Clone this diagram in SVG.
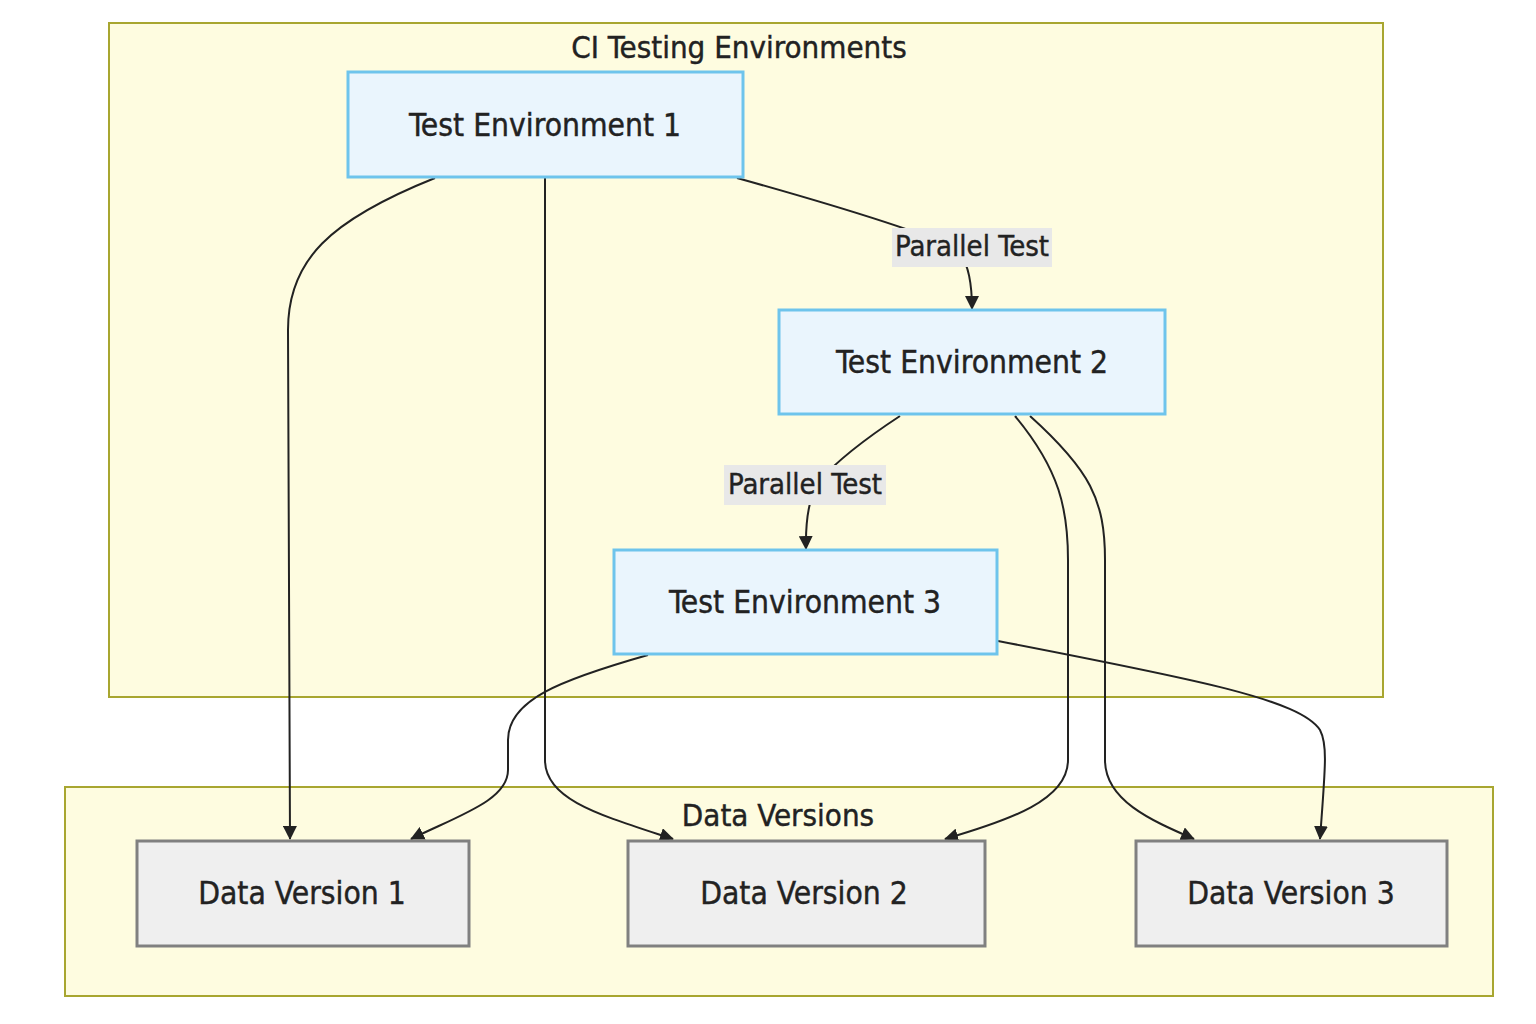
<svg xmlns="http://www.w3.org/2000/svg" width="1536" height="1024" viewBox="0 0 1536 1024">
<defs>
<marker id="arr" viewBox="0 0 14 14" refX="13" refY="7" markerWidth="14" markerHeight="14" markerUnits="userSpaceOnUse" orient="auto">
<path d="M0,0 L14,7 L0,14 z" fill="#222"/>
</marker>
<style>
text{font-family:"DejaVu Sans Condensed","DejaVu Sans",sans-serif;fill:#222;text-anchor:middle;dominant-baseline:central;stroke:#222;stroke-width:0.4}
.cluster{fill:#fefce0;stroke:#a8a630;stroke-width:2}
.te{fill:#eaf5fd;stroke:#6ec4ec;stroke-width:3}
.dv{fill:#efefef;stroke:#808080;stroke-width:3}
.title{font-size:31px}
.lbl{font-size:31.5px}
.elbl{font-size:29px}
.lblbg{fill:#e8e8e8}
.edge{fill:none;stroke:#222;stroke-width:2;marker-end:url(#arr)}
</style>
</defs>
<rect width="1536" height="1024" fill="#ffffff"/>
<g id="cluster-ci">
<rect class="cluster" x="109" y="23" width="1274" height="674"/>
<text class="title" x="739" y="47">CI Testing Environments</text>
</g>
<g id="cluster-data">
<rect class="cluster" x="65" y="787" width="1428" height="209"/>
<text class="title" x="778" y="815">Data Versions</text>
</g>
<g id="edges">
<path class="edge" d="M435,178 C330,220 288,260 288,330 L290,839"/>
<path class="edge" d="M545,178 L545,760 C545,800 600,815 673,839"/>
<path class="edge" d="M737,178 Q905,225 955,248 Q972,262 972,309"/>
<path class="edge" d="M900,416 Q845,452 818,482 Q805,505 806,549"/>
<path class="edge" d="M1015,416 C1060,470 1068,510 1068,560 L1068,760 C1068,800 1010,820 945,839"/>
<path class="edge" d="M1030,416 C1090,470 1105,500 1105,560 L1105,760 C1105,800 1150,820 1194,839"/>
<path class="edge" d="M648,655 C560,680 508,700 508,740 L508,770 C508,800 460,815 411,839"/>
<path class="edge" d="M998,641 C1200,680 1300,700 1320,730 C1328,745 1325,770 1320,839"/>
</g>
<g id="label-1">
<rect class="lblbg" x="892" y="228" width="160" height="39"/>
<text class="elbl" x="972" y="246">Parallel Test</text>
</g>
<g id="label-2">
<rect class="lblbg" x="724" y="465" width="162" height="40"/>
<text class="elbl" x="805" y="484">Parallel Test</text>
</g>
<g id="te1">
<rect class="te" x="348" y="72" width="395" height="105"/>
<text class="lbl" x="545" y="125">Test Environment 1</text>
</g>
<g id="te2">
<rect class="te" x="779" y="310" width="386" height="104"/>
<text class="lbl" x="972" y="362">Test Environment 2</text>
</g>
<g id="te3">
<rect class="te" x="614" y="550" width="383" height="104"/>
<text class="lbl" x="805" y="602">Test Environment 3</text>
</g>
<g id="dv1">
<rect class="dv" x="137" y="841" width="332" height="105"/>
<text class="lbl" x="302" y="893">Data Version 1</text>
</g>
<g id="dv2">
<rect class="dv" x="628" y="841" width="357" height="105"/>
<text class="lbl" x="804" y="893">Data Version 2</text>
</g>
<g id="dv3">
<rect class="dv" x="1136" y="841" width="311" height="105"/>
<text class="lbl" x="1291" y="893">Data Version 3</text>
</g>
</svg>
